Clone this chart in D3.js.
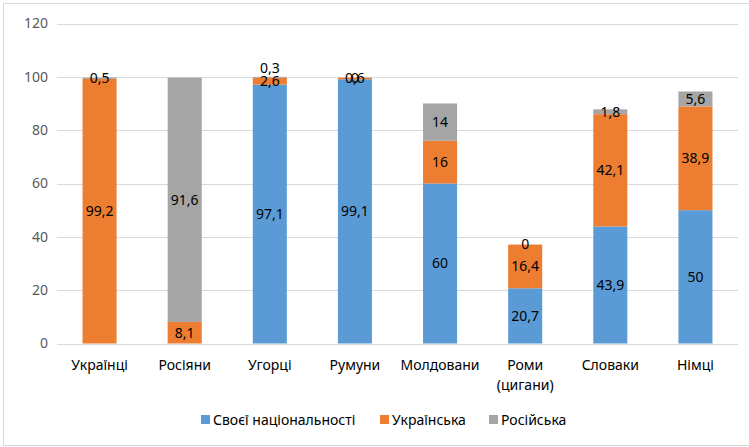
<!DOCTYPE html>
<html>
<head>
<meta charset="utf-8">
<script src="https://cdn.jsdelivr.net/npm/d3@7"></script>
<style>
  body { margin: 0; background: #fff; }
  svg { font-family: 'Noto Sans', 'Open Sans', sans-serif; }
</style>
</head>
<body>
<div id="chart"></div>
<script>
const categories = ['Українці', 'Росіяни', 'Угорці', 'Румуни', 'Молдовани', 'Роми\n(цигани)', 'Словаки', 'Німці']
const ownLanguage = [null, null, 97.1, 99.1, 60, 20.7, 43.9, 50]
const ukrainian = [99.2, 8.1, 2.6, 0.6, 16, 16.4, 42.1, 38.9]
const russian = [0.5, 91.6, 0.3, 0, 14, 0, 1.8, 5.6]
const yTicks = [0, 20, 40, 60, 80, 100, 120]

const seriesInfo = [
  { key: 'own', name: 'Своєї національності', color: '#5B9BD5', values: ownLanguage },
  { key: 'ukr', name: 'Українська', color: '#ED7D31', values: ukrainian },
  { key: 'rus', name: 'Російська', color: '#A5A5A5', values: russian }
]

// label collisions that excel pushed apart
const labelNudge = { 'rus-2': -9 }

const width = 749
const height = 447
const margin = { top: 23.5, right: 11, bottom: 103.5, left: 57 }
const fontSize = 14

const svg = d3.select('#chart').append('svg')
  .attr('width', width)
  .attr('height', height)

svg.append('rect')
  .attr('x', 3.5).attr('y', 3.5)
  .attr('width', width + 20).attr('height', 442)
  .attr('fill', '#fff')
  .attr('stroke', '#D9D9D9')

const x = d3.scaleBand()
  .domain(categories)
  .range([margin.left, width - margin.right])
  .paddingInner(0.6)
  .paddingOuter(0.3)

const y = d3.scaleLinear()
  .domain([0, 120])
  .range([height - margin.bottom, margin.top])

// grid
svg.append('g')
  .selectAll('line')
  .data(yTicks)
  .join('line')
  .attr('x1', margin.left)
  .attr('x2', width - margin.right)
  .attr('y1', d => Math.round(y(d)) + 0.5)
  .attr('y2', d => Math.round(y(d)) + 0.5)
  .attr('stroke', '#D9D9D9')
  .attr('stroke-width', 1)

const yAxis = svg.append('g')
  .attr('transform', `translate(${margin.left - 9},0)`)
  .call(d3.axisLeft(y).tickValues(yTicks).tickSize(0).tickPadding(0))
yAxis.select('.domain').remove()
yAxis.selectAll('text')
  .attr('fill', '#595959')
  .attr('font-size', fontSize)
  .attr('font-family', "'Noto Sans', sans-serif")

// stack
const table = categories.map((c, i) => {
  const row = { cat: c, i }
  seriesInfo.forEach(s => { row[s.key] = s.values[i] || 0 })
  return row
})
const stack = d3.stack().keys(seriesInfo.map(s => s.key))(table)

const groups = svg.append('g')
  .selectAll('g')
  .data(stack)
  .join('g')
  .attr('fill', (d, i) => seriesInfo[i].color)

groups.selectAll('rect')
  .data(d => d)
  .join('rect')
  .attr('x', d => x(d.data.cat))
  .attr('width', x.bandwidth())
  .attr('y', d => y(d[1]))
  .attr('height', d => y(d[0]) - y(d[1]))

// data labels
const labels = svg.append('g')
  .attr('font-size', fontSize)
  .attr('fill', '#000')
  .attr('text-anchor', 'middle')

stack.forEach((layer, si) => {
  const s = seriesInfo[si]
  layer.forEach((d, i) => {
    const v = s.values[i]
    if (v === null) return
    const nudge = labelNudge[s.key + '-' + i] || 0
    labels.append('text')
      .attr('x', x(d.data.cat) + x.bandwidth() / 2)
      .attr('y', y((d[0] + d[1]) / 2) + nudge)
      .attr('dy', '0.35em')
      .text(String(v).replace('.', ','))
  })
})

// category labels
const xg = svg.append('g')
  .attr('font-size', fontSize)
  .attr('fill', '#000')
  .attr('text-anchor', 'middle')

categories.forEach(c => {
  const t = xg.append('text')
    .attr('x', x(c) + x.bandwidth() / 2)
    .attr('y', y(0) + 26)
  c.split('\n').forEach((line, k) => {
    t.append('tspan')
      .attr('x', x(c) + x.bandwidth() / 2)
      .attr('dy', k === 0 ? 0 : 20)
      .text(line)
  })
})

// legend
const legend = svg.append('g')
  .attr('transform', 'translate(201,420)')
  .attr('font-size', fontSize)

const legendX = [0, 179, 288]
seriesInfo.forEach((s, i) => {
  const g = legend.append('g').attr('transform', `translate(${legendX[i]},0)`)
  g.append('rect')
    .attr('x', 0).attr('y', -5)
    .attr('width', 9).attr('height', 9)
    .attr('fill', s.color)
  g.append('text')
    .attr('x', 12)
    .attr('y', 0)
    .attr('dy', '0.35em')
    .attr('fill', '#000')
    .text(s.name)
})
</script>
</body>
</html>
